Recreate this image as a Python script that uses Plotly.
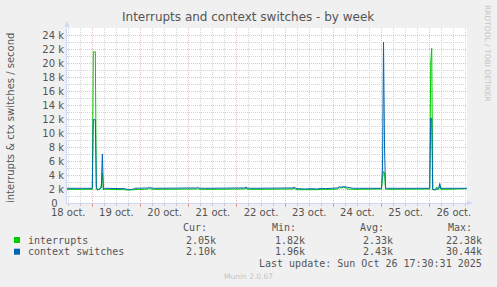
import plotly.graph_objects as go

# ---------------- data ----------------
times = [
    "2025-10-18 11:00", "2025-10-18 13:00", "2025-10-18 15:00", "2025-10-18 17:00",
    "2025-10-18 19:00", "2025-10-18 21:00", "2025-10-18 23:00", "2025-10-18 23:30",
    "2025-10-19 00:00", "2025-10-19 00:30", "2025-10-19 01:00", "2025-10-19 01:30",
    "2025-10-19 02:00", "2025-10-19 02:30", "2025-10-19 03:00", "2025-10-19 03:30",
    "2025-10-19 04:00", "2025-10-19 04:30", "2025-10-19 05:00", "2025-10-19 05:30",
    "2025-10-19 06:00", "2025-10-19 08:00", "2025-10-19 10:00", "2025-10-19 12:00",
    "2025-10-19 14:00", "2025-10-19 16:00", "2025-10-19 18:00", "2025-10-19 20:00",
    "2025-10-19 21:00", "2025-10-19 23:00",
    "2025-10-20 02:00", "2025-10-20 04:00", "2025-10-20 04:30", "2025-10-20 05:00",
    "2025-10-20 07:00", "2025-10-20 10:00", "2025-10-20 13:00", "2025-10-20 16:00",
    "2025-10-20 19:00", "2025-10-20 22:00",
    "2025-10-21 02:00", "2025-10-21 04:00", "2025-10-21 04:30", "2025-10-21 05:00",
    "2025-10-21 08:00", "2025-10-21 11:00", "2025-10-21 14:00", "2025-10-21 17:00",
    "2025-10-21 20:00", "2025-10-21 23:00",
    "2025-10-22 02:00", "2025-10-22 04:00", "2025-10-22 04:30", "2025-10-22 05:00",
    "2025-10-22 08:00", "2025-10-22 11:00", "2025-10-22 14:00", "2025-10-22 17:00",
    "2025-10-22 20:00", "2025-10-22 23:00",
    "2025-10-23 02:00", "2025-10-23 04:00", "2025-10-23 04:30", "2025-10-23 05:00",
    "2025-10-23 06:00", "2025-10-23 08:00", "2025-10-23 10:00", "2025-10-23 13:00",
    "2025-10-23 16:00", "2025-10-23 18:00", "2025-10-23 20:00", "2025-10-23 23:00",
    "2025-10-24 02:00", "2025-10-24 03:00", "2025-10-24 04:00", "2025-10-24 05:00",
    "2025-10-24 06:00", "2025-10-24 07:00", "2025-10-24 10:00", "2025-10-24 13:00",
    "2025-10-24 16:00", "2025-10-24 19:00", "2025-10-24 21:00", "2025-10-24 22:00",
    "2025-10-25 00:00", "2025-10-25 00:30", "2025-10-25 01:00", "2025-10-25 01:30",
    "2025-10-25 02:00", "2025-10-25 03:00", "2025-10-25 06:00", "2025-10-25 09:00",
    "2025-10-25 12:00", "2025-10-25 15:00", "2025-10-25 18:00", "2025-10-25 21:00",
    "2025-10-26 00:00", "2025-10-26 00:30", "2025-10-26 01:00", "2025-10-26 01:30",
    "2025-10-26 02:00", "2025-10-26 03:00", "2025-10-26 03:30", "2025-10-26 04:00",
    "2025-10-26 04:30", "2025-10-26 05:00", "2025-10-26 05:30", "2025-10-26 08:00",
    "2025-10-26 11:00", "2025-10-26 14:00", "2025-10-26 17:30", "2025-10-26 18:30",
]

interrupts = [
    1950, 1960, 1940, 1950, 1960, 1940, 1950, 1950,
    1950, 21600, 21600, 21600, 2000, 1850, 1900, 1950,
    2000, 2600, 4300, 1900, 1950, 1950, 1960, 1950,
    1940, 1900, 1850, 1900, 1950, 1950,
    1950, 2000, 2150, 2000, 1950, 1960, 1950, 1940, 1950, 1950,
    1950, 2000, 2100, 1980, 1950, 1960, 1950, 1940, 1950, 1950,
    1960, 2000, 2150, 1980, 1950, 1950, 1960, 1950, 1940, 1950,
    1950, 2000, 2150, 2000, 1900, 1880, 1900, 1920, 1900, 1950, 1920, 1950,
    2000, 2200, 2150, 2250, 2200, 2000, 1950, 1960, 1950, 1950, 2050, 1950,
    2000, 3600, 4500, 4300, 2000, 1950, 1950, 1960, 1950, 1940, 1950, 1950,
    2000, 20000, 22100, 2000, 1850, 1900, 2300, 1950, 2000, 2500, 1950, 1950,
    1950, 1950, 2050, 2050,
]

ctx_switches = [
    2100, 2110, 2090, 2100, 2120, 2100, 2100, 2110,
    2100, 11900, 11900, 11900, 2400, 1900, 1950, 2000,
    2100, 2200, 7000, 1950, 2100, 2100, 2110, 2100,
    2100, 2050, 1900, 1950, 2100, 2100,
    2100, 2150, 2300, 2150, 2100, 2100, 2110, 2100, 2100, 2090,
    2100, 2150, 2250, 2120, 2100, 2110, 2100, 2100, 2090, 2100,
    2100, 2150, 2300, 2120, 2100, 2100, 2110, 2100, 2100, 2100,
    2100, 2150, 2300, 2150, 2050, 2000, 2000, 2050, 2000, 2100, 2050, 2100,
    2150, 2300, 2250, 2350, 2300, 2150, 2100, 2100, 2100, 2100, 2200, 2100,
    2100, 5000, 23000, 8000, 2100, 2100, 2100, 2100, 2110, 2100, 2100, 2090,
    2100, 12100, 12100, 1900, 1900, 1950, 2000, 2000, 2100, 2800, 2100, 2100,
    2100, 2100, 2100, 2100,
]

day_dates = ["2025-10-18", "2025-10-19", "2025-10-20", "2025-10-21", "2025-10-22",
             "2025-10-23", "2025-10-24", "2025-10-25", "2025-10-26"]
day_labels = ["18 oct.", "19 oct.", "20 oct.", "21 oct.", "22 oct.",
              "23 oct.", "24 oct.", "25 oct.", "26 oct."]
y_tick_values = [0, 2000, 4000, 6000, 8000, 10000, 12000, 14000,
                 16000, 18000, 20000, 22000, 24000]
y_tick_labels = ["0\u00a0\u00a0", "2 k", "4 k", "6 k", "8 k", "10 k", "12 k", "14 k",
                 "16 k", "18 k", "20 k", "22 k", "24 k"]

series_names = ["interrupts", "context switches"]
series_colors = ["#00CC00", "#0066B3"]
stat_cur = ["2.05k", "2.10k"]
stat_min = ["1.82k", "1.96k"]
stat_avg = ["2.33k", "2.43k"]
stat_max = ["22.38k", "30.44k"]

# ---------------- figure ----------------
W, H = 497, 287
L, R, T, B = 67, 467, 28, 203
X_RANGE = ["2025-10-18 11:24", "2025-10-26 18:34"]


def px(X):
    return (X - L) / (R - L)


def py(Y):
    return (B - Y) / (B - T)


TEXT = "#555555"
MONO = "DejaVu Sans Mono"
MAJOR = "#EBBDBD"
MINOR = "#D4D4D4"
DOTS = "1px,1px"

fig = go.Figure()
fig.add_trace(go.Scatter(x=times, y=interrupts, mode="lines",
                         line=dict(color=series_colors[0], width=1),
                         name=series_names[0], hoverinfo="skip"))
fig.add_trace(go.Scatter(x=times, y=ctx_switches, mode="lines",
                         line=dict(color=series_colors[1], width=1),
                         name=series_names[1], hoverinfo="skip"))
# invisible helper trace so that the label axis (x2) is rendered
fig.add_trace(go.Scatter(x=times, y=ctx_switches, xaxis="x2", yaxis="y",
                         mode="lines", line=dict(width=0), opacity=0,
                         showlegend=False, hoverinfo="skip"))

fig.update_layout(
    width=W, height=H,
    margin=dict(l=L, r=W - R, t=T, b=H - B, pad=0),
    paper_bgcolor="#F0F0F0", plot_bgcolor="#FFFFFF",
    showlegend=False,
    font=dict(family="DejaVu Sans", size=10, color=TEXT),
)

fig.update_layout(xaxis=dict(
    type="date", range=X_RANGE,
    tickmode="array", tickvals=day_dates, showticklabels=False,
    showgrid=True, gridcolor=MAJOR, griddash=DOTS, gridwidth=1,
    ticks="outside", ticklen=3, tickcolor="#E09090",
    minor=dict(dtick=6 * 3600000, tick0="2025-10-18", showgrid=True,
               gridcolor=MINOR, griddash=DOTS, ticks="outside", ticklen=2,
               tickcolor="#C8C8C8"),
    showline=True, linecolor="#CFD6F8", linewidth=1, zeroline=False,
))
fig.update_layout(xaxis2=dict(
    type="date", range=X_RANGE, overlaying="x", anchor="y", side="bottom",
    tickmode="array", tickvals=[d + " 12:00" for d in day_dates], ticktext=day_labels,
    showgrid=False, ticks="", showline=False, zeroline=False,
    ticklabelstandoff=2,
    tickfont=dict(size=10, color=TEXT),
))

fig.update_yaxes(
    range=[0, 25000],
    tickvals=y_tick_values, ticktext=y_tick_labels,
    showgrid=True, gridcolor=MAJOR, griddash=DOTS, gridwidth=1,
    ticks="",
    minor=dict(dtick=1000, showgrid=True, gridcolor=MINOR, griddash=DOTS),
    showline=True, linecolor="#CFD6F8", linewidth=1,
    zeroline=False, tickfont=dict(size=10, color=TEXT),
)

ann = []
ann.append(dict(x=px(248), y=py(17), xref="paper", yref="paper",
                text="Interrupts and context switches - by week", showarrow=False,
                xanchor="center", yanchor="middle",
                font=dict(family="DejaVu Sans", size=12, color=TEXT)))
ann.append(dict(x=px(11), y=py(118), xref="paper", yref="paper",
                text="interrupts & ctx switches / second", showarrow=False,
                textangle=-90, xanchor="center", yanchor="middle",
                font=dict(family="DejaVu Sans", size=10, color=TEXT)))
ann.append(dict(x=px(488), y=py(53), xref="paper", yref="paper",
                text="RRDTOOL / TOBI OETIKER", showarrow=False,
                textangle=90, xanchor="center", yanchor="middle",
                font=dict(family="DejaVu Sans", size=7.5, color="#C4C4C4")))
for label, xl in zip(["Cur:", "Min:", "Avg:", "Max:"], [181, 269.5, 357.5, 446]):
    ann.append(dict(x=px(xl), y=py(227.5), xref="paper", yref="paper",
                    text=label, showarrow=False, xanchor="left", yanchor="middle",
                    font=dict(family=MONO, size=10, color=TEXT)))
rows_y = [240, 251.7]
shapes = []
for i in range(2):
    yc = rows_y[i]
    shapes.append(dict(type="rect", xref="paper", yref="paper",
                       x0=px(14), x1=px(20), y0=py(yc + 3), y1=py(yc - 3),
                       fillcolor=series_colors[i], line=dict(width=0)))
    ann.append(dict(x=px(26), y=py(yc), xref="paper", yref="paper",
                    text=series_names[i], showarrow=False, xanchor="left",
                    yanchor="middle", font=dict(family=MONO, size=10, color=TEXT)))
    for val, xr in zip([stat_cur[i], stat_min[i], stat_avg[i], stat_max[i]],
                       [217.5, 307, 395, 483.5]):
        ann.append(dict(x=px(xr), y=py(yc), xref="paper", yref="paper",
                        text=val, showarrow=False, xanchor="right",
                        yanchor="middle", font=dict(family=MONO, size=10, color=TEXT)))
ann.append(dict(x=px(483.5), y=py(263.3), xref="paper", yref="paper",
                text="Last update: Sun Oct 26 17:30:31 2025", showarrow=False,
                xanchor="right", yanchor="middle",
                font=dict(family=MONO, size=10, color=TEXT)))
ann.append(dict(x=px(248), y=py(276), xref="paper", yref="paper",
                text="Munin 2.0.67", showarrow=False, xanchor="center",
                yanchor="middle", font=dict(family="DejaVu Sans", size=7.5, color="#C4C4C4")))

shapes.append(dict(type="path", xref="paper", yref="paper",
                   path=f"M {px(64.5)} {py(27)} L {px(69.5)} {py(27)} L {px(67)} {py(21)} Z",
                   fillcolor="#CFD6F8", line=dict(width=0)))
shapes.append(dict(type="path", xref="paper", yref="paper",
                   path=f"M {px(467)} {py(200.5)} L {px(467)} {py(205.5)} L {px(473)} {py(203)} Z",
                   fillcolor="#CFD6F8", line=dict(width=0)))

fig.update_layout(annotations=ann, shapes=shapes)
fig.write_html("out.html")
